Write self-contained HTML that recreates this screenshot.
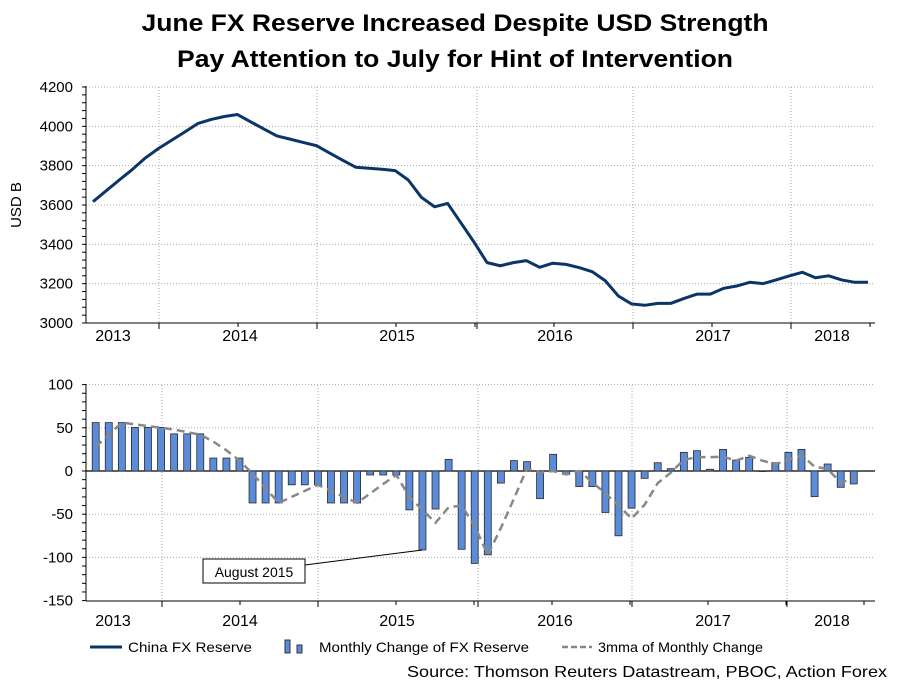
<!DOCTYPE html>
<html><head><meta charset="utf-8"><style>
html,body{margin:0;padding:0;background:#fff;}
svg{display:block;font-family:"Liberation Sans",sans-serif;}
</style></head><body>
<svg id="c" width="909" height="682" viewBox="0 0 909 682" xmlns="http://www.w3.org/2000/svg">
<text x="455" y="31" text-anchor="middle" font-size="24" font-weight="bold" textLength="627" lengthAdjust="spacingAndGlyphs">June FX Reserve Increased Despite USD Strength</text>
<text x="455" y="67" text-anchor="middle" font-size="24" font-weight="bold" textLength="556" lengthAdjust="spacingAndGlyphs">Pay Attention to July for Hint of Intervention</text>
<text transform="translate(21,205) rotate(-90)" text-anchor="middle" font-size="15">USD B</text>
<g id="top"></g><g id="bot"></g>
<g>
<line x1="90" y1="647" x2="122" y2="647" stroke="#0b3566" stroke-width="3"/>
<text x="128" y="652" font-size="14" textLength="124" lengthAdjust="spacingAndGlyphs">China FX Reserve</text>
<rect x="285" y="640" width="5" height="13" fill="#5b8bd9" stroke="#333" stroke-width="1"/>
<rect x="297" y="645" width="5" height="8" fill="#5b8bd9" stroke="#333" stroke-width="1"/>
<text x="319" y="652" font-size="14" textLength="210" lengthAdjust="spacingAndGlyphs">Monthly Change of FX Reserve</text>
<line x1="562" y1="647" x2="592" y2="647" stroke="#888" stroke-width="2.5" stroke-dasharray="6,3"/>
<text x="598" y="652" font-size="14" textLength="165" lengthAdjust="spacingAndGlyphs">3mma of Monthly Change</text>
</g>
<text x="887" y="677" text-anchor="end" font-size="16" textLength="480" lengthAdjust="spacingAndGlyphs">Source: Thomson Reuters Datastream, PBOC, Action Forex</text>
</svg>
<script>
const reserve=[3617,3672,3727,3781,3840,3888,3930,3972,4015,4035,4050,4060,4023,3987,3951,3935,3918,3902,3865,3828,3792,3787,3782,3775,3727,3639,3591,3608,3510,3412,3307,3291,3307,3317,3283,3304,3298,3282,3261,3215,3137,3097,3090,3100,3100,3125,3147,3147,3176,3188,3207,3200,3219,3239,3258,3230,3240,3219,3207,3207];
const change=[56,56,56,50.5,50.5,50.5,43,43,43,15,15,15,-37,-37,-37,-16,-16,-16,-37,-37,-37,-4.6,-4.6,-4.6,-45,-91.4,-44,13.5,-90.6,-107,-97,-14,12,10.8,-32,19.3,-4,-18,-18,-48,-75,-43,-8.5,9.6,2.7,21.6,23.5,2,25,12.7,15.8,0,9.6,21.6,25,-29.7,8.1,-18.9,-15];
const mma=[28,42,56,54,52,50,48,45,42,34,24,12,-3,-20,-37,-30,-23,-16,-23,-30,-37,-26,-15,-4.6,-30,-45,-60,-42,-40,-64,-97,-66,-32,3,-2,0,-4,0,-13,-26,-40,-55,-39,-14,-2,13,16,16,16.6,12,17.7,12,8,12.7,18.5,5,2.3,-13.5,-8.5];
const yearLabels=["2013","2014","2015","2016","2017","2018"];
const topTicks=[3000,3200,3400,3600,3800,4000,4200];
const botTicks=[-150,-100,-50,0,50,100];

const NS="http://www.w3.org/2000/svg";
function mk(p,t,a){const e=document.createElementNS(NS,t);for(const k in a)e.setAttribute(k,a[k]);p.appendChild(e);return e;}
const L=86,R=875;
// top axes
const tx=i=>93+i*(775/59);
const ty=v=>87+(4200-v)*236/1200;
// bottom axes
const bx=i=>95.7+i*13.07;
const by=v=>471-v*0.864;
const topG=document.getElementById('top'),botG=document.getElementById('bot');
function frame(g,y0,y1,ticks,yf,minorStep,lo,hi,gridX,labX,labY,name){
  ticks.forEach(t=>{
    const y=yf(t);
    if(t!==lo && !(name==='bottom'&&t===0)){const gl=mk(g,'line',{x1:L,x2:R,y1:y,y2:y,stroke:'#aaa','stroke-dasharray':'1,2'});
    
    }
    const tl=mk(g,'text',{x:73,y:y+5,'text-anchor':'end','font-size':15});
    tl.textContent=t;
    
    
  });
  for(let v=lo;v<=hi;v+=minorStep){const y=yf(v);mk(g,'line',{x1:L-4,x2:L,y1:y,y2:y,stroke:'#000'});}
  gridX.forEach(x=>{
    const gl=mk(g,'line',{x1:x,x2:x,y1:y0,y2:y1,stroke:'#aaa','stroke-dasharray':'1,2'});
    
    
    mk(g,'line',{x1:x,x2:x,y1:y1,y2:y1+6,stroke:'#000'});
  });
  for(let k=-1;k<12;k++){const x=gridX[0]+(gridX[1]-gridX[0])*k/2;if(x>L&&x<R)mk(g,'line',{x1:x,x2:x,y1:y1,y2:y1+4,stroke:'#000'});}
  mk(g,'line',{x1:L,x2:L,y1:y0-1,y2:y1,stroke:'#000'});
  mk(g,'line',{x1:L,x2:R,y1:y1,y2:y1,stroke:'#000'});
  yearLabels.forEach((s,i)=>{
    const t=mk(g,'text',{x:labX[i],y:labY,'text-anchor':'middle','font-size':16});
    t.textContent=s;
    
    
  });
}
frame(topG,87,323,topTicks,ty,40,3000,4200,[159,317,477,633,791],[113,240,397,555,713,832],341,'top');
frame(botG,385,601,botTicks,by,10,-150,100,[162,318,478,632,787],[113,240,397,555,713,832],626,'bottom');
// reserve line
const pl=mk(topG,'polyline',{points:reserve.map((v,i)=>tx(i)+','+ty(v)).join(' '),fill:'none',stroke:'#0b3566','stroke-width':3,'stroke-linejoin':'round'});


// zero line
mk(botG,'line',{x1:L,x2:R,y1:by(0),y2:by(0),stroke:'#000','stroke-width':1.2});
// bars
change.forEach((v,i)=>{
  const y0=by(0),y=by(v);
  const r=mk(botG,'rect',{x:bx(i)-3.5,y:Math.min(y,y0),width:7,height:Math.max(Math.abs(y-y0),0.5),fill:'#5b8bd9',stroke:'#2a2a2a','stroke-width':0.8});
  
  
});
const ml=mk(botG,'polyline',{points:mma.map((v,i)=>bx(i)+','+by(v)).join(' '),fill:'none',stroke:'#888','stroke-width':2.5,'stroke-dasharray':'8,5'});


// annotation
mk(botG,'line',{x1:305,y1:565,x2:bx(25),y2:by(change[25]),stroke:'#000','stroke-width':1});
const ab=mk(botG,'rect',{x:203,y:559,width:102,height:24,fill:'#fff',stroke:'#000'});


const at=mk(botG,'text',{x:254,y:577,'text-anchor':'middle','font-size':14});
at.textContent='August 2015';


</script>
</body></html>
